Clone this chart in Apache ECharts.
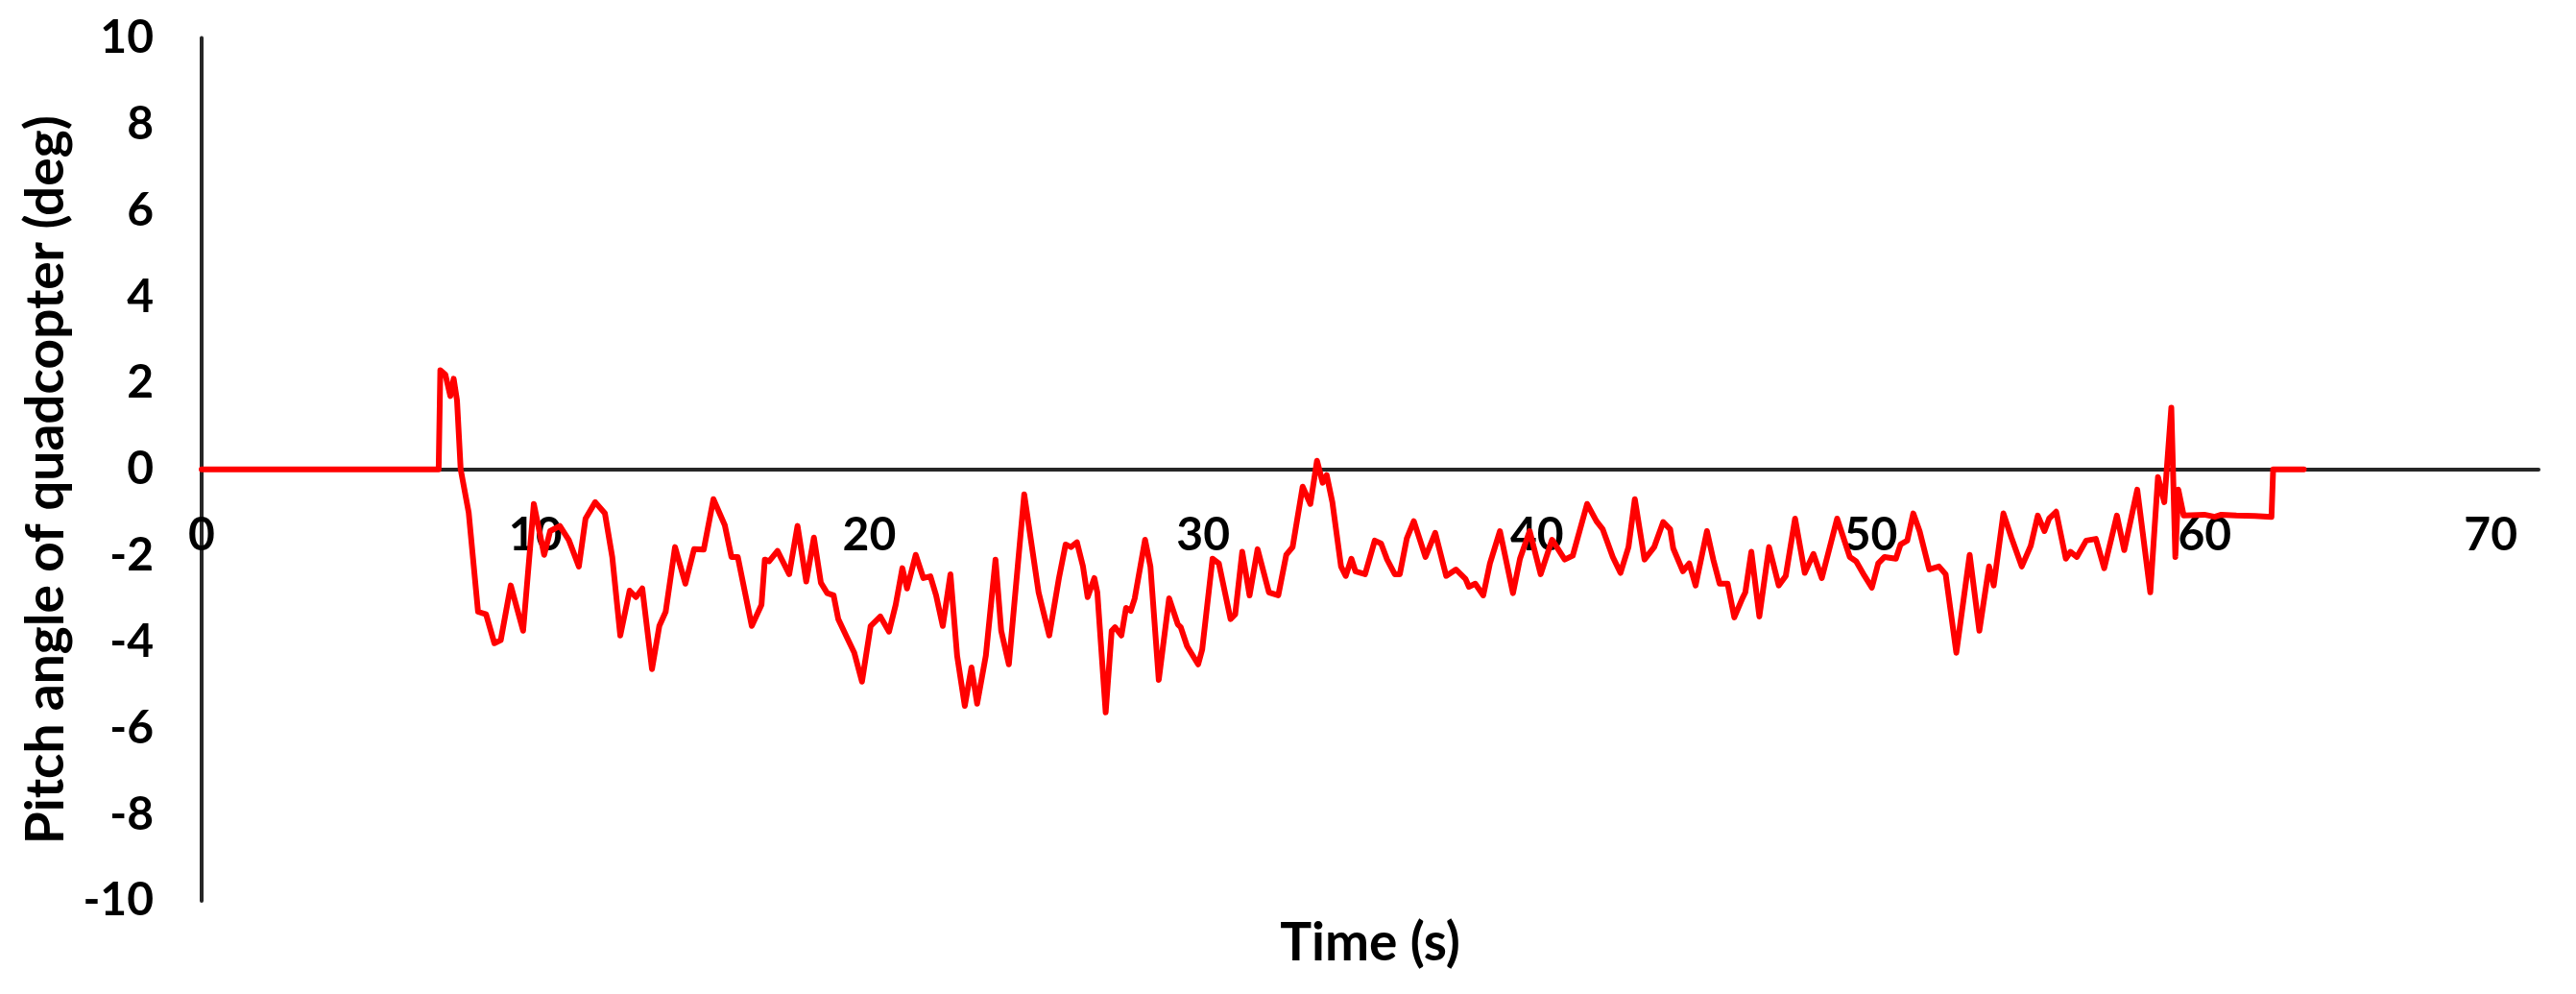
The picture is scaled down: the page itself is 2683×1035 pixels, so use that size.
<!DOCTYPE html>
<html>
<head>
<meta charset="utf-8">
<script src="https://cdn.jsdelivr.net/npm/echarts@6/dist/echarts.min.js"></script>
<style>
html,body{margin:0;padding:0;background:#fff;}
#chart{width:2683px;height:1035px;}
</style>
</head>
<body>
<div id="chart"></div>
<script>
const time = [0,7.1,7.15,7.3,7.45,7.55,7.65,7.76,8.0,8.28,8.52,8.77,8.96,9.26,9.63,9.95,10.26,10.44,10.73,11.0,11.3,11.5,11.79,12.08,12.3,12.54,12.82,13.01,13.2,13.49,13.71,13.9,14.18,14.49,14.75,15.04,15.33,15.67,15.87,16.06,16.48,16.77,16.87,17.0,17.25,17.6,17.85,18.11,18.34,18.55,18.74,18.93,19.07,19.32,19.55,19.78,20.04,20.33,20.59,20.79,20.99,21.13,21.39,21.62,21.83,22.0,22.2,22.43,22.63,22.86,23.06,23.23,23.49,23.78,23.95,24.18,24.64,25.07,25.39,25.68,25.88,26.04,26.22,26.4,26.54,26.74,26.83,27.08,27.26,27.36,27.55,27.69,27.83,27.95,28.26,28.42,28.67,28.98,29.24,29.33,29.52,29.85,29.97,30.28,30.47,30.82,30.96,31.17,31.39,31.63,31.97,32.25,32.49,32.68,32.98,33.21,33.41,33.58,33.7,33.87,34.13,34.27,34.44,34.56,34.85,35.14,35.33,35.51,35.74,35.89,36.1,36.31,36.66,36.95,37.28,37.57,37.86,37.96,38.15,38.39,38.59,38.89,39.28,39.49,39.78,40.11,40.45,40.83,41.07,41.5,41.78,41.97,42.27,42.5,42.74,42.93,43.22,43.51,43.78,43.99,44.08,44.37,44.56,44.75,45.09,45.28,45.47,45.71,45.91,46.15,46.24,46.42,46.66,46.95,47.24,47.45,47.73,48.02,48.28,48.53,48.99,49.37,49.56,49.81,50.03,50.22,50.41,50.75,50.89,51.09,51.27,51.46,51.75,52.04,52.24,52.56,52.96,53.25,53.54,53.68,53.97,54.21,54.52,54.79,55.0,55.2,55.34,55.55,55.84,55.98,56.17,56.45,56.74,56.99,57.37,57.59,57.98,58.37,58.6,58.79,59.0,59.12,59.21,59.37,59.99,60.3,60.5,60.95,61.5,62.0,62.05,62.97];
const pitch = [0,0,2.3,2.2,1.7,2.1,1.6,0,-1.0,-3.3,-3.36,-4.03,-3.96,-2.69,-3.74,-0.8,-1.98,-1.43,-1.31,-1.64,-2.25,-1.14,-0.76,-1.02,-2.03,-3.85,-2.81,-2.96,-2.76,-4.63,-3.63,-3.3,-1.8,-2.65,-1.85,-1.86,-0.69,-1.29,-2.03,-2.03,-3.63,-3.14,-2.09,-2.13,-1.89,-2.43,-1.31,-2.6,-1.58,-2.63,-2.87,-2.92,-3.47,-3.88,-4.25,-4.92,-3.63,-3.41,-3.76,-3.14,-2.29,-2.76,-1.98,-2.52,-2.48,-2.92,-3.63,-2.43,-4.32,-5.48,-4.59,-5.43,-4.32,-2.09,-3.74,-4.52,-0.58,-2.85,-3.85,-2.52,-1.74,-1.8,-1.69,-2.25,-2.96,-2.52,-2.85,-5.63,-3.74,-3.66,-3.85,-3.21,-3.28,-2.99,-1.63,-2.25,-4.88,-2.99,-3.59,-3.66,-4.1,-4.52,-4.18,-2.07,-2.18,-3.47,-3.36,-1.91,-2.92,-1.85,-2.85,-2.92,-1.98,-1.8,-0.4,-0.8,0.2,-0.31,-0.13,-0.76,-2.25,-2.47,-2.07,-2.36,-2.43,-1.65,-1.72,-2.09,-2.43,-2.43,-1.6,-1.2,-2.03,-1.47,-2.47,-2.32,-2.54,-2.72,-2.65,-2.92,-2.18,-1.43,-2.87,-2.07,-1.43,-2.43,-1.63,-2.09,-2.0,-0.8,-1.2,-1.39,-2.03,-2.4,-1.8,-0.69,-2.09,-1.8,-1.22,-1.39,-1.83,-2.36,-2.18,-2.69,-1.43,-2.09,-2.65,-2.65,-3.43,-2.99,-2.85,-1.91,-3.41,-1.8,-2.69,-2.47,-1.14,-2.4,-1.96,-2.52,-1.14,-2.03,-2.13,-2.47,-2.74,-2.18,-2.03,-2.07,-1.74,-1.65,-1.02,-1.43,-2.32,-2.25,-2.43,-4.25,-1.98,-3.74,-2.25,-2.69,-1.02,-1.58,-2.25,-1.77,-1.07,-1.43,-1.14,-0.98,-2.07,-1.91,-2.03,-1.65,-1.61,-2.29,-1.07,-1.87,-0.47,-2.85,-0.18,-0.76,1.43,-2.03,-0.47,-1.07,-1.05,-1.1,-1.05,-1.07,-1.08,-1.1,0,0];
const xTitle = 'Time (s)';
const yTitle = 'Pitch angle of quadcopter (deg)';

const seriesData = time.map((t, i) => [t, pitch[i]]);
const font = 'Lato, "Open Sans", sans-serif';
const axisColor = '#262626';

const chart = echarts.init(document.getElementById('chart'), null, {renderer: 'canvas'});
chart.setOption({
  animation: false,
  backgroundColor: '#ffffff',
  grid: {left: 210, right: 39, top: 39.5, bottom: 97, containLabel: false, outerBoundsMode: 'none'},
  xAxis: {
    type: 'value', min: 0, max: 70, interval: 10,
    position: 'bottom', offset: -449,
    name: xTitle, nameLocation: 'middle', nameGap: 466,
    nameTextStyle: {fontFamily: font, fontWeight: 'bold', fontSize: 55, color: '#000'},
    axisLine: {onZero: false, lineStyle: {color: axisColor, width: 4}},
    axisTick: {show: false},
    splitLine: {show: false},
    axisLabel: {
      margin: 45, fontFamily: font, fontWeight: 'bold', fontSize: 48, color: '#000', alignMaxLabel: 'right',
      formatter: v => v === 70 ? '{last|70}' : String(v),
      rich: {last: {fontFamily: font, fontWeight: 'bold', fontSize: 48, color: '#000', padding: [0, 22, 0, 0]}}
    }
  },
  yAxis: {
    type: 'value', min: -10, max: 10, interval: 2,
    name: yTitle, nameLocation: 'middle', nameGap: 134, nameRotate: 90,
    nameTextStyle: {fontFamily: font, fontWeight: 'bold', fontSize: 55, color: '#000', padding: [0, 22, 0, 0]},
    axisLine: {show: true, onZero: false, lineStyle: {color: axisColor, width: 4}},
    axisTick: {show: false},
    splitLine: {show: false},
    axisLabel: {margin: 50, fontFamily: font, fontWeight: 'bold', fontSize: 48, color: '#000'}
  },
  series: [{
    type: 'line',
    data: seriesData,
    showSymbol: false,
    smooth: false,
    lineStyle: {color: '#ff0000', width: 6, join: 'round', cap: 'round'},
    z: 3
  }]
});
</script>
</body>
</html>
